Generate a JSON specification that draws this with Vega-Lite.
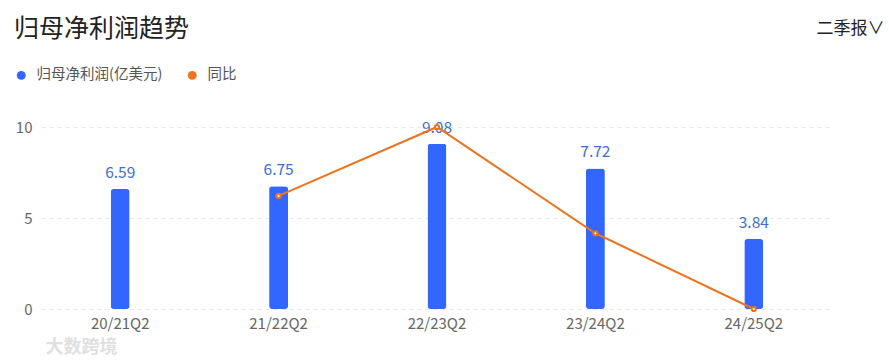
{
  "$schema": "https://vega.github.io/schema/vega-lite/v6.json",
  "width": 792,
  "height": 182,
  "autosize": {"type": "none"},
  "padding": {"left": 41, "top": 127, "right": 56, "bottom": 51},
  "background": "white",
  "config": {"font": "Noto Sans CJK SC", "view": {"stroke": null}},
  "title": {"text": "归母净利润趋势", "anchor": "start", "frame": "group", "dx": -27, "offset": 0, "dy": 23, "fontSize": 25, "fontWeight": "normal", "color": "#222222"},
  "data": {"values": [
    {"q": "20/21Q2", "profit": 6.59, "yoy": null},
    {"q": "21/22Q2", "profit": 6.75, "yoy": 2.43},
    {"q": "22/23Q2", "profit": 9.08, "yoy": 34.52},
    {"q": "23/24Q2", "profit": 7.72, "yoy": -14.98},
    {"q": "24/25Q2", "profit": 3.84, "yoy": -50.26}
  ]},
  "encoding": {
    "x": {"field": "q", "type": "nominal", "sort": null,
      "scale": {"paddingInner": 0, "paddingOuter": 0},
      "axis": {"title": "大数跨境", "titleAnchor": "start", "titleAlign": "left", "titleX": 4, "titleY": 38, "titleBaseline": "middle", "titleColor": "#e0e0e0", "titleFontSize": 18, "titleFontWeight": "bold",
        "labelAngle": 0, "domain": false, "ticks": false, "labelColor": "#666666", "labelFontSize": 15, "labelPadding": 7, "grid": false}}
  },
  "layer": [
    {"layer": [
      {"mark": {"type": "bar", "width": 19, "cornerRadius": 3},
       "encoding": {
         "y": {"field": "profit", "type": "quantitative", "scale": {"domain": [0, 10]},
           "axis": {"values": [0, 5, 10], "title": null, "domain": false, "ticks": false, "labelColor": "#666666", "labelFontSize": 15, "labelPadding": 9, "gridColor": "#e8e8e8", "gridDash": [4, 4]}},
         "color": {"datum": "归母净利润(亿美元)", "type": "nominal",
           "scale": {"domain": ["归母净利润(亿美元)", "同比"], "range": ["#3366ff", "#ea7420"]},
           "legend": {"orient": "none", "legendX": -27, "legendY": -59, "direction": "horizontal", "title": null, "symbolType": "circle", "symbolSize": 80, "symbolStrokeWidth": 0, "labelFontSize": 14.5, "labelColor": "#555555", "columnPadding": 22, "labelOffset": 8}}
       }},
      {"mark": {"type": "text", "baseline": "bottom", "dy": -8, "fontSize": 15.5, "color": "#3f6fcf"},
       "encoding": {
         "y": {"field": "profit", "type": "quantitative"},
         "text": {"field": "profit", "type": "quantitative", "format": ".2f"}
       }}
    ]},
    {"layer": [
      {"mark": {"type": "line", "strokeWidth": 2},
       "encoding": {
         "y": {"field": "yoy", "type": "quantitative", "scale": {"zero": false, "nice": false},
           "axis": {"orient": "right", "labels": false, "ticks": false, "domain": false, "grid": false, "title": "二季报∨", "titleAngle": 0, "titleAlign": "left", "titleBaseline": "middle", "titleX": -17, "titleY": -99, "titleFontSize": 17, "titleFontWeight": "normal", "titleColor": "#222222"}},
         "color": {"datum": "同比", "type": "nominal"}
       }},
      {"mark": {"type": "point", "filled": true, "fill": "#fff3ea", "stroke": "#ea7420", "strokeWidth": 2, "size": 18, "opacity": 1},
       "encoding": {
         "y": {"field": "yoy", "type": "quantitative"}
       }}
    ]}
  ],
  "resolve": {"scale": {"y": "independent"}}
}
